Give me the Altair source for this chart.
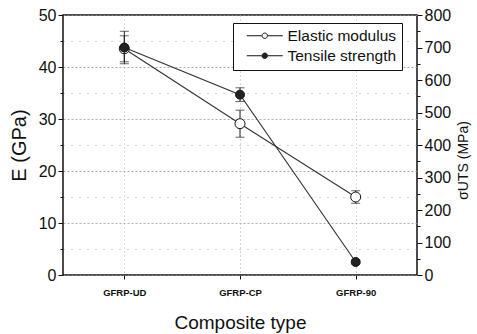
import altair as alt
import pandas as pd

categories = ["GFRP-UD", "GFRP-CP", "GFRP-90"]
modulus = [43.5, 29.1, 15.0]
modulus_err = [2.5, 2.6, 1.2]
strength = [700, 555, 40]
strength_err = [50, 21, 6]

df = pd.DataFrame({
    "cat": categories,
    "E": modulus,
    "E_lo": [m - e for m, e in zip(modulus, modulus_err)],
    "E_hi": [m + e for m, e in zip(modulus, modulus_err)],
    "S": strength,
    "S_lo": [s - e for s, e in zip(strength, strength_err)],
    "S_hi": [s + e for s, e in zip(strength, strength_err)],
})

FONT = "Liberation Sans, Arial, sans-serif"
LINE = "#333333"

x_enc = alt.X(
    "cat:N", sort=categories,
    scale=alt.Scale(type="point", padding=0.53),
    axis=alt.Axis(
        title="Composite type", titleFont=FONT, titleFontSize=19, titleFontWeight="normal",
        titleColor="#111", titlePadding=17,
        labelFont=FONT, labelFontSize=9.5, labelFontWeight="bold", labelColor="#111",
        labelAngle=0, labelPadding=8, tickSize=4, tickColor="#111", domain=False,
        grid=True, gridColor="#999", gridDash=[1, 3], gridWidth=0.8,
    ),
)

e_axis = alt.Axis(
    title="E (GPa)", titleFont=FONT, titleFontSize=20, titleFontWeight="normal", titleColor="#111",
    titlePadding=9,
    values=list(range(0, 51, 5)),
    labelExpr="datum.value % 10 === 0 ? datum.label : ''",
    labelFont=FONT, labelFontSize=16, labelColor="#111", labelPadding=2,
    tickSize={"condition": {"test": "datum.value % 10 === 0", "value": 5}, "value": 3},
    tickColor="#111", domain=False,
    grid=True, gridColor="#999",
    gridDash={"condition": {"test": "datum.value % 10 === 0", "value": [2, 2]}, "value": [1, 7]},
    gridWidth=0.8,
)
e_scale = alt.Scale(domain=[0, 50], nice=False, zero=True)

s_axis = alt.Axis(
    title="\u03c3UTS (MPa)", titleFont=FONT, titleFontSize=14, titleFontWeight="normal", titleColor="#111",
    titleAngle=270, titleX=46, titleY=145, titleAlign="center", titleBaseline="middle",
    orient="right",
    values=list(range(0, 801, 50)),
    labelExpr="datum.value % 100 === 0 ? datum.label : ''",
    labelFont=FONT, labelFontSize=16, labelColor="#111", labelPadding=2,
    tickSize={"condition": {"test": "datum.value % 100 === 0", "value": 5}, "value": 3},
    tickColor="#111", domain=False, grid=False,
)
s_scale = alt.Scale(domain=[0, 800], nice=False, zero=True)

fill_scale = alt.Scale(domain=["Elastic modulus", "Tensile strength"], range=["white", "#222222"])
legend = alt.Legend(
    title=None, orient="none", legendX=170, legendY=8,
    strokeColor="#111", fillColor="white", padding=5,
    symbolType="M-3,0H-0.5M0.5,0H3M0.45,0A0.45,0.45,0,1,1,-0.45,0A0.45,0.45,0,1,1,0.45,0",
    symbolSize=144, symbolStrokeColor="#111", symbolStrokeWidth=1, symbolOffset=19,
    labelFont=FONT, labelFontSize=15.5, labelColor="#111", labelOffset=15,
    rowPadding=3,
)

base = alt.Chart(df)

def yE(field):
    return alt.Y(field, type="quantitative", scale=e_scale, axis=e_axis)

def yS(field):
    return alt.Y(field, type="quantitative", scale=s_scale, axis=s_axis)

left = alt.layer(
    base.mark_line(color=LINE, strokeWidth=1.1).encode(x=x_enc, y=yE("E")),
    base.mark_rule(color="#222", strokeWidth=1).encode(x=x_enc, y=yE("E_lo"), y2="E_hi"),
    base.mark_tick(color="#222", size=9, thickness=1).encode(x=x_enc, y=yE("E_lo")),
    base.mark_tick(color="#222", size=9, thickness=1).encode(x=x_enc, y=yE("E_hi")),
    base.transform_calculate(series="'Elastic modulus'").mark_point(
        shape="circle", size=100, filled=True, stroke="#111", strokeWidth=1, opacity=1
    ).encode(x=x_enc, y=yE("E"), fill=alt.Fill("series:N", scale=fill_scale, legend=legend)),
)

right = alt.layer(
    base.mark_line(color=LINE, strokeWidth=1.1).encode(x=x_enc, y=yS("S")),
    base.mark_rule(color="#222", strokeWidth=1).encode(x=x_enc, y=yS("S_lo"), y2="S_hi"),
    base.mark_tick(color="#222", size=9, thickness=1).encode(x=x_enc, y=yS("S_lo")),
    base.mark_tick(color="#222", size=9, thickness=1).encode(x=x_enc, y=yS("S_hi")),
    base.transform_calculate(series="'Tensile strength'").mark_point(
        shape="circle", size=80, filled=True, stroke="#111", strokeWidth=1, opacity=1
    ).encode(x=x_enc, y=yS("S"), fill=alt.Fill("series:N", scale=fill_scale, legend=legend)),
)

chart = alt.layer(left, right).resolve_scale(y="independent").properties(
    width=354, height=260,
    autosize=alt.AutoSizeParams(type="none"),
    padding={"left": 63, "top": 15, "right": 60, "bottom": 59},
    background="white",
).configure_view(stroke="#111", strokeWidth=1.5)

chart.save("out.html", embed_options={"renderer": "svg", "actions": False})
